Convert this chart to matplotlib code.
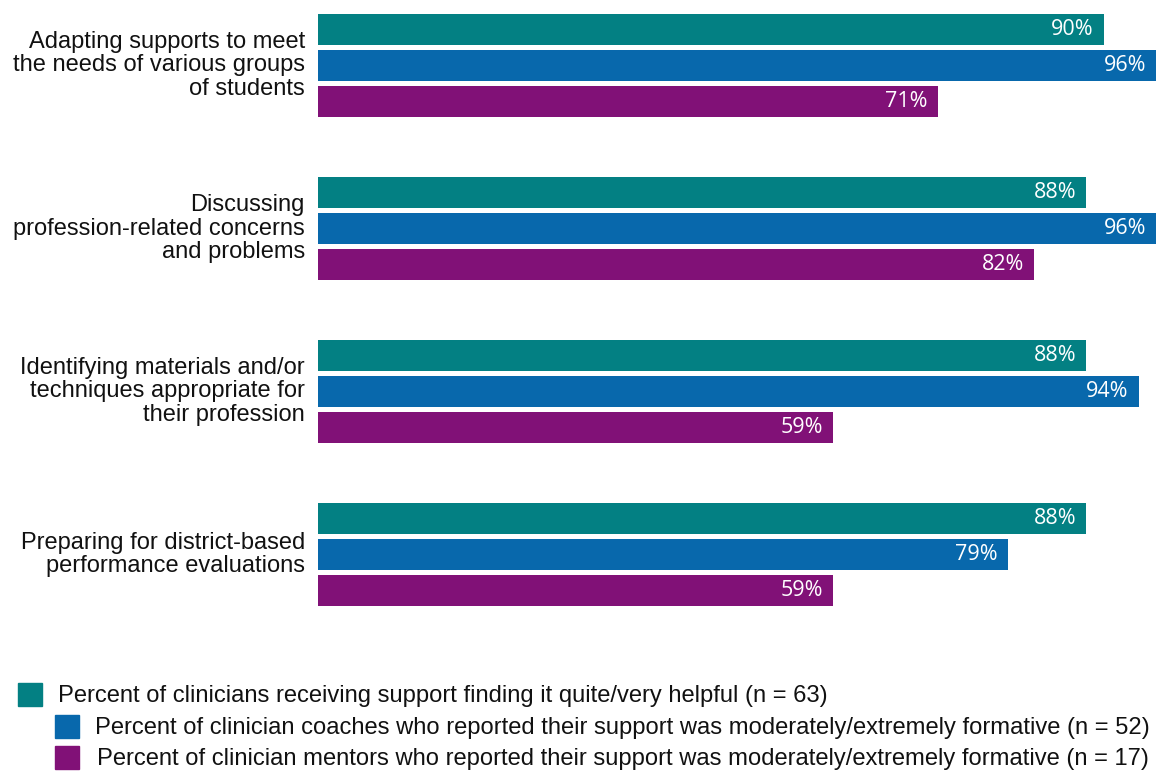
import numpy as np
import matplotlib.pyplot as plt
from matplotlib.patches import Rectangle

# survey items and the three groups of respondents
items = ["Adapting supports to meet\nthe needs of various groups\nof students",
         "Discussing\nprofession-related concerns\nand problems",
         "Identifying materials and/or\ntechniques appropriate for\ntheir profession",
         "Preparing for district-based\nperformance evaluations"]
helpful = [90, 88, 88, 88]
coaches = [96, 96, 94, 79]
mentors = [71, 82, 59, 59]

series_names = ["Percent of clinicians receiving support finding it quite/very helpful (n = 63)",
                "Percent of clinician coaches who reported their support was moderately/extremely formative (n = 52)",
                "Percent of clinician mentors who reported their support was moderately/extremely formative (n = 17)"]
colors = ["#038083", "#0868AC", "#811177"]

W, H = 1159, 772
fig = plt.figure(figsize=(W / 100, H / 100), dpi=100)

# axes placed in pixel terms
ax_left, ax_right, ax_top, ax_bot = 318, 1159, 0, 620
ax = fig.add_axes([ax_left / W, 1 - ax_bot / H, (ax_right - ax_left) / W, (ax_bot - ax_top) / H])
px = 8.73  # pixels per percent

group_gap = 163 / 36.0
bar_h = 31 / 36.0
centers = np.arange(len(items)) * group_gap

for k, vals in enumerate([helpful, coaches, mentors]):
    ypos = centers + (k - 1)
    ax.barh(ypos, vals, height=bar_h, color=colors[k], edgecolor="none")
    for y, v in zip(ypos, vals):
        ax.text(v - 10 / px, y, f"{v}%", ha="right", va="center", color="white",
                fontsize=15.5, family="Open Sans")

ax.set_xlim(0, 841 / px)
ax.set_ylim((620 - 65.5) / 36.0, -65.5 / 36.0)
ax.axis("off")

# category labels to the left of each group
for c, lab in zip(centers, items):
    ax.text(-13 / px, c, lab, ha="right", va="center", fontsize=17,
            family="Liberation Sans", color="#111111", linespacing=1.1)

# legend drawn by hand, stepped rows
legend_rows = [(18, 58, 702), (55, 95, 734), (55, 97, 765)]
for (sx, tx, base), name, col in zip(legend_rows, series_names, colors):
    fig.patches.append(Rectangle((sx / W, 1 - (base + 4) / H), 24 / W, 23 / H,
                                 transform=fig.transFigure, color=col))
    fig.text(tx / W, 1 - base / H, name, ha="left", va="baseline", fontsize=17.1,
             family="Liberation Sans", color="#111111")

plt.savefig("out.png", dpi=100)
